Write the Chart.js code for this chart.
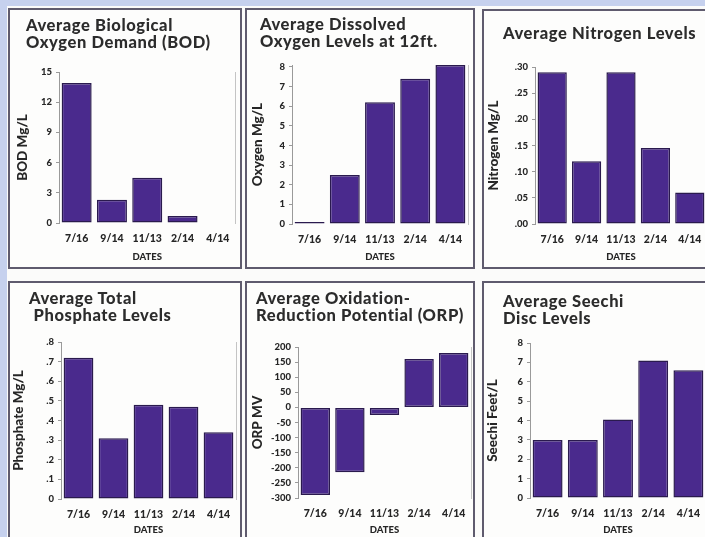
<!DOCTYPE html>
<html>
<head>
<meta charset="utf-8">
<script src="https://cdn.jsdelivr.net/npm/chart.js@4/dist/chart.umd.min.js"></script>
<style>
  html, body { margin:0; padding:0; width:705px; height:537px; overflow:hidden; background:#c6d1ee; }
  #sheet { position:absolute; left:7px; top:6px; width:720px; height:560px; background:#fbfbfa; }
  .panel { position:absolute; box-sizing:border-box; border:2px solid #5f5b6e; background:#fdfdfc; }
  .ttl { position:absolute; font-family:Lato, "Open Sans", sans-serif; font-weight:900; font-size:16.5px; letter-spacing:0.6px; line-height:17px; color:#2c2c2c; white-space:nowrap; }
  canvas { position:absolute; }
</style>
</head>
<body>
<div id="sheet"></div>
<div id="root"></div>
<script>
// ---------- data ----------
const dates = ['7/16', '9/14', '11/13', '2/14', '4/14'];

const bodValues       = [13.9, 2.3, 4.5, 0.7, 0];
const oxygenValues    = [0.1, 2.5, 6.2, 7.4, 8.1];
const nitrogenValues  = [0.29, 0.12, 0.29, 0.145, 0.06];
const phosphateValues = [0.72, 0.31, 0.48, 0.47, 0.34];
const orpValues       = [-290, -215, -25, 160, 180];
const secchiValues    = [3.0, 3.0, 4.05, 7.1, 6.6];

const bodTickValues       = [0, 3, 6, 9, 12, 15];
const bodTickLabels       = ['0', '3', '6', '9', '12', '15'];
const oxygenTickValues    = [0, 1, 2, 3, 4, 5, 6, 7, 8];
const oxygenTickLabels    = ['0', '1', '2', '3', '4', '5', '6', '7', '8'];
const nitrogenTickValues  = [0, 0.05, 0.10, 0.15, 0.20, 0.25, 0.30];
const nitrogenTickLabels  = ['.00', '.05', '.10', '.15', '.20', '.25', '.30'];
const phosphateTickValues = [0, 0.1, 0.2, 0.3, 0.4, 0.5, 0.6, 0.7, 0.8];
const phosphateTickLabels = ['0', '.1', '.2', '.3', '.4', '.5', '.6', '.7', '.8'];
const orpTickValues       = [-300, -250, -200, -150, -100, -50, 0, 50, 100, 150, 200];
const orpTickLabels       = ['-300', '-250', '-200', '-150', '-100', '-50', '0', '50', '100', '150', '200'];
const secchiTickValues    = [0, 1, 2, 3, 4, 5, 6, 7, 8];
const secchiTickLabels    = ['0', '1', '2', '3', '4', '5', '6', '7', '8'];

const titles = [
  ['Average Biological', 'Oxygen Demand (BOD)'],
  ['Average Dissolved', 'Oxygen Levels at 12ft.'],
  ['Average Nitrogen Levels'],
  ['Average Total', ' Phosphate Levels'],
  ['Average Oxidation-', 'Reduction Potential (ORP)'],
  ['Average Seechi', 'Disc Levels']
];
const yTitles = ['BOD Mg/L', 'Oxygen Mg/L', 'Nitrogen Mg/L', 'Phosphate Mg/L', 'ORP MV', 'Seechi Feet/L'];
const xTitle = 'DATES';

// ---------- layout / style ----------
const panels = [
  { box:[8,8,234,261],   area:[59,72,235.5,223],  ttl:[26,17],  yTx:23,  xTy:257, min:0,    max:15,  vals:bodValues,       tv:bodTickValues,       tl:bodTickLabels },
  { box:[245,8,230,261], area:[292,65,468,224],   ttl:[260,16], yTx:258, xTy:257, min:0,    max:8.1, vals:oxygenValues,    tv:oxygenTickValues,    tl:oxygenTickLabels },
  { box:[482,9,240,260], area:[535,67,707,224],   ttl:[503,25], yTx:494, xTy:257, min:0,    max:0.30,vals:nitrogenValues,  tv:nitrogenTickValues,  tl:nitrogenTickLabels },
  { box:[8,281,234,270], area:[61,342,236,499],   ttl:[29,290], yTx:19,  xTy:530, min:0,    max:0.8, vals:phosphateValues, tv:phosphateTickValues, tl:phosphateTickLabels },
  { box:[245,281,230,270],area:[298,347,471,498], ttl:[256,290],yTx:258, xTy:530, min:-300, max:200, vals:orpValues,       tv:orpTickValues,       tl:orpTickLabels },
  { box:[482,281,240,270],area:[530,343,706,498], ttl:[503,293],yTx:493, xTy:530, min:0,    max:8,   vals:secchiValues,    tv:secchiTickValues,    tl:secchiTickLabels }
];

const FONT = 'Lato, "Open Sans", sans-serif';
const yTitleSize = 13.5, xTitleSize = 9.5;
const barFill = '#4a2a8d', barEdge = '#2a1a4e';
const ink = '#262626';

const root = document.getElementById('root');
panels.forEach((p, i) => {
  const [bx, by, bw, bh] = p.box;
  const pd = document.createElement('div');
  pd.className = 'panel';
  Object.assign(pd.style, { left:bx+'px', top:by+'px', width:bw+'px', height:bh+'px' });
  root.appendChild(pd);

  const cv = document.createElement('canvas');
  Object.assign(cv.style, { left:bx+'px', top:by+'px', width:bw+'px', height:bh+'px' });
  cv.width = bw; cv.height = bh;
  root.appendChild(cv);

  const t = document.createElement('div');
  t.className = 'ttl';
  t.style.left = p.ttl[0] + 'px'; t.style.top = p.ttl[1] + 'px';
  t.innerHTML = titles[i].map(s => s.replace(/ /g, '&nbsp;')).join('<br>');
  root.appendChild(t);

  const [al, at, ar, ab] = p.area;
  const yLH = yTitleSize * 1.2, xLH = xTitleSize * 1.2;
  const YW = al - p.yTx + yLH / 2;
  const XH = p.xTy - ab + xLH / 2;
  const pad = { left: al - bx - YW, top: at - by, right: bx + bw - ar, bottom: by + bh - ab - XH };

  new Chart(cv, {
    type: 'bar',
    data: { labels: dates, datasets: [{ data: p.vals, backgroundColor: barFill, borderColor: barEdge, borderWidth: 1.5, borderSkipped: false }] },
    options: {
      responsive: false, animation: false, devicePixelRatio: 1,
      layout: { padding: pad },
      plugins: { legend: { display: false }, tooltip: { enabled: false } },
      datasets: { bar: { categoryPercentage: 1, barPercentage: 0.85 } },
      scales: {
        x: {
          grid: { display: false, drawTicks: false }, border: { display: false },
          ticks: { color: ink, padding: 9, maxRotation: 0, autoSkip: false, font: { family: FONT, weight: '900', size: 10.5 } },
          title: { display: true, text: xTitle, color: ink, padding: 0, font: { family: FONT, weight: '900', size: xTitleSize } },
          afterFit: s => { s.height = XH; }
        },
        y: {
          min: p.min, max: p.max,
          grid: { display: true, drawOnChartArea: false, drawTicks: true, tickLength: 3, color: '#9a9a9a' },
          border: { display: true, color: '#9a9a9a', width: 1 },
          afterBuildTicks: s => { s.ticks = p.tv.map(v => ({ value: v })); },
          ticks: { color: ink, padding: 4, font: { family: FONT, weight: '900', size: 9.5 },
                   callback: (v, idx) => p.tl[idx] },
          title: { display: true, text: yTitles[i], color: ink, padding: 0, font: { family: FONT, weight: '900', size: yTitleSize } },
          afterFit: s => { s.width = YW; }
        },
        yr: {
          position: 'right', display: true,
          grid: { display: false, drawTicks: false }, ticks: { display: false },
          border: { display: true, color: '#c4c4c4', width: 1 },
          afterFit: s => { s.width = 0; }
        }
      }
    }
  });
});
</script>
</body>
</html>
